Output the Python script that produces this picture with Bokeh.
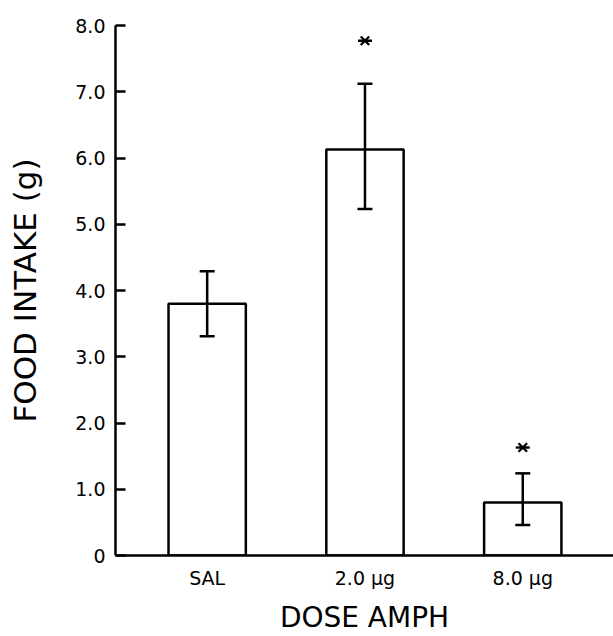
from bokeh.plotting import figure
from bokeh.models import (ColumnDataSource, Range1d, FixedTicker, Whisker, TeeHead)
from bokeh.embed import file_html
from bokeh.resources import INLINE

# ---- data ----
categories = ["SAL", "2.0 µg", "8.0 µg"]
intake = [3.80, 6.13, 0.80]
err_upper = [4.29, 7.12, 1.24]
err_lower = [3.31, 5.23, 0.46]
sig_categories = ["2.0 µg", "8.0 µg"]
sig_y = [7.77, 1.63]
y_ticks = [0, 1, 2, 3, 4, 5, 6, 7, 8]
y_tick_labels = ["0", "1.0", "2.0", "3.0", "4.0", "5.0", "6.0", "7.0", "8.0"]

FONT = "DejaVu Sans"

xpos = [i + 1 for i in range(len(categories))]
src = ColumnDataSource(dict(x=xpos, top=intake, upper=err_upper, lower=err_lower))
sig_x = [categories.index(c) + 1 for c in sig_categories]
sig_src = ColumnDataSource(dict(x=sig_x, y=sig_y))

p = figure(width=613, height=636,
           x_range=Range1d(0.419, 3.575), y_range=Range1d(0, 8),
           output_backend="svg", toolbar_location=None,
           min_border_top=25, min_border_left=115, min_border_right=0,
           min_border_bottom=81)
p.outline_line_color = None
p.xgrid.visible = False
p.ygrid.visible = False
p.background_fill_color = "white"
p.border_fill_color = "white"

p.vbar(x="x", top="top", bottom=0, width=0.49, source=src,
       fill_color="white", line_color="black", line_width=2.5)

w = Whisker(base="x", upper="upper", lower="lower", source=src,
            line_color="black", line_width=2.5, level="overlay",
            upper_head=TeeHead(size=15, line_width=2.5, line_color="black"),
            lower_head=TeeHead(size=15, line_width=2.5, line_color="black"))
p.add_layout(w)

p.scatter(x="x", y="y", source=sig_src, marker="x", size=12,
          line_color="black", line_width=2.4)
p.scatter(x="x", y="y", source=sig_src, marker="dash", size=14,
          line_color="black", line_width=2.4)

# y axis
ya = p.yaxis[0]
ya.ticker = FixedTicker(ticks=y_ticks)
ya.major_label_overrides = {t: l for t, l in zip(y_ticks, y_tick_labels)}
ya.major_tick_in = 10
ya.major_tick_out = 0
ya.minor_tick_line_color = None
ya.major_tick_line_width = 2.5
ya.axis_line_width = 2.5
ya.major_label_standoff = 10
ya.major_label_text_font = FONT
ya.major_label_text_font_size = "19px"
ya.major_label_text_color = "black"
ya.axis_label = "FOOD INTAKE (g)"
ya.axis_label_text_font = FONT
ya.axis_label_text_font_size = "31px"
ya.axis_label_text_font_style = "normal"
ya.axis_label_text_color = "black"
ya.axis_label_standoff = 29

# x axis
xa = p.xaxis[0]
xa.ticker = FixedTicker(ticks=xpos)
xa.major_label_overrides = {x: c for x, c in zip(xpos, categories)}
xa.major_tick_line_color = None
xa.minor_tick_line_color = None
xa.major_tick_in = 0
xa.major_tick_out = 0
xa.axis_line_width = 2.5
xa.major_label_standoff = 11
xa.major_label_text_font = FONT
xa.major_label_text_font_size = "19px"
xa.major_label_text_color = "black"
xa.axis_label = "DOSE AMPH"
xa.axis_label_text_font = FONT
xa.axis_label_text_font_size = "28px"
xa.axis_label_text_font_style = "normal"
xa.axis_label_text_color = "black"
xa.axis_label_standoff = 9

open("out.html", "w").write(file_html(p, INLINE))
